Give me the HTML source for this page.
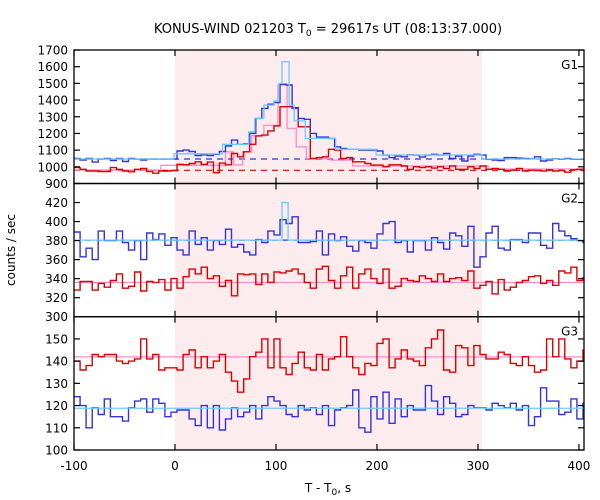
<!DOCTYPE html>
<html><head><meta charset="utf-8"><style>
body{margin:0;background:#fff}
svg{display:block;font-family:"DejaVu Sans","Liberation Sans",sans-serif}
</style></head><body>
<svg id="chart" width="600" height="500" xmlns="http://www.w3.org/2000/svg">
<text x="328" y="33" font-size="13" text-anchor="middle">KONUS-WIND 021203 T<tspan font-size="9" dy="3">0</tspan><tspan dy="-3"> = 29617s UT (08:13:37.000)</tspan></text>
<text x="0" y="0" font-size="12" text-anchor="middle" transform="translate(15,250) rotate(-90)">counts / sec</text>
<text x="328" y="492" font-size="12" text-anchor="middle">T - T<tspan font-size="9" dy="3">0</tspan><tspan dy="-3">, s</tspan></text>
<g id="layer"></g>
</svg>
<script>
const binStart = -100;
const binWidth = 6;
const xTicks = [-100, 0, 100, 200, 300, 400];
const shadeRange = [0, 304];
const g1Blue = [1050,1040,1050,1028,1046,1050,1038,1050,1032,1050,1046,1040,1046,1046,1046,1046,1046,
 1095,1100,1092,1068,1072,1068,1075,1092,1125,1160,1135,1138,1200,1290,1350,1375,1385,
 1495,1490,1350,1290,1285,1200,1178,1178,1170,1120,1110,1105,1105,1100,1100,1100,1095,
 1070,1055,1065,1060,1072,1070,1058,1070,1075,1070,1080,1050,1065,1035,1065,1075,1070,
 1045,1040,1038,1055,1055,1052,1050,1048,1060,1035,1040,1048,1045,1050,1045,1045,1045];
const g1Red = [995,985,975,975,972,972,995,985,975,970,985,990,972,962,975,975,978,
 1015,1012,1020,1030,1015,1028,965,1022,1012,1080,1060,1090,1135,1185,1190,1215,1245,
 1360,1360,1355,1240,1240,1050,1055,1060,1105,1100,1050,1055,1030,1030,1020,1010,1010,
 1000,1012,1012,1005,985,1000,995,1000,992,1000,990,1005,985,985,1000,990,1005,
 985,990,985,975,980,990,975,980,978,975,982,975,978,968,982,985,978];
const g2Blue = [389,363,372,360,390,380,380,390,378,370,380,360,388,381,387,375,383,
 370,365,390,376,383,370,380,376,392,373,376,368,365,381,378,390,386,
 402,398,405,378,378,379,390,365,387,380,384,374,369,380,378,372,387,
 398,400,378,380,368,380,380,370,383,378,371,388,385,374,395,352,363,
 388,395,372,370,381,381,378,388,388,375,372,398,390,385,382,380,378];
const g2Red = [328,337,337,328,335,331,338,345,330,332,347,327,337,336,339,328,340,
 330,342,350,345,352,340,343,332,338,322,345,344,345,334,345,336,347,
 346,348,350,345,336,330,350,353,338,330,343,352,330,345,350,340,335,
 350,330,332,340,338,337,343,340,337,345,337,340,341,338,348,330,333,
 337,324,339,328,331,336,338,342,343,335,338,333,348,346,352,338,341];
const g3Red = [140,136,138,143,142,143,143,140,139,140,141,150,141,143,136,137,137,
 136,143,145,137,142,137,140,143,135,131,126,132,142,144,150,137,150,
 137,134,139,144,137,136,143,136,141,142,151,142,137,134,139,138,148,
 150,137,141,145,141,140,138,146,150,154,136,135,147,146,138,147,143,
 141,141,144,143,139,138,142,138,135,136,150,142,150,141,137,140,145];
const g3Blue = [124,120,110,119,116,123,115,115,113,119,122,123,117,123,121,115,117,
 118,118,114,111,120,110,120,109,114,119,115,117,120,114,120,124,122,
 120,116,115,120,118,119,116,120,111,118,119,120,127,110,108,124,114,
 126,112,123,115,120,118,118,129,122,116,124,121,115,116,120,119,119,
 118,121,120,119,121,118,120,111,115,128,122,122,116,117,123,114,121];
const g1CyanEdges = [-100,-1,47,73,79,88,98,103,106,113,118,129,159,199,304,410];
const g1CyanVals = [1047,1078,1135,1210,1290,1370,1395,1500,1630,1370,1275,1170,1105,1071,1047];
const g1PinkEdges = [-100,-14,50,58,67,76,88,102,111,120,130,154,176,310,410];
const g1PinkVals = [981,1009,1090,1012,1090,1186,1248,1490,1230,1120,1050,1040,1005,987];
const g2CyanEdges = [-100,106,112,410];
const g2CyanVals = [380.5,420,380.5];
const g1Bg = [1047, 979];
const g2Bg = [380.5, 336];
const g3Bg = [118.8, 141.9];
const g1Ticks = [900,1000,1100,1200,1300,1400,1500,1600,1700];
const g2Ticks = [300,320,340,360,380,400,420];
const g3Ticks = [100,110,120,130,140,150];

const X0=74, X1=584, TMIN=-100, TMAX=405;
const xs = t => X0 + (t-TMIN)/(TMAX-TMIN)*(X1-X0);
const panels = [
 {name:'g1', top:50, bot:183.5, min:900, max:1700, ticks:g1Ticks, label:'G1'},
 {name:'g2', top:183.5, bot:316.7, min:300, max:440, ticks:g2Ticks, label:'G2'},
 {name:'g3', top:316.7, bot:450, min:100, max:160, ticks:g3Ticks, label:'G3'}
];
panels.forEach(p=>{p.y = v => p.bot - (v-p.min)/(p.max-p.min)*(p.bot-p.top);});
const NS='http://www.w3.org/2000/svg';
const layer=document.getElementById('layer');
function mk(tag, attrs){const e=document.createElementNS(NS,tag);for(const k in attrs)e.setAttribute(k,attrs[k]);layer.appendChild(e);return e;}

// shading
const sh = mk('rect',{x:xs(shadeRange[0]),y:50,width:xs(shadeRange[1])-xs(shadeRange[0]),height:400,fill:'#fdeced'});



function clampT(t){return Math.max(TMIN,Math.min(TMAX,t));}
function binPath(vals,p){
 let d='';
 vals.forEach((v,i)=>{
  const a=clampT(binStart+i*binWidth), b=clampT(binStart+(i+1)*binWidth);
  if(a>=b) return;
  const y=p.y(v).toFixed(1);
  d += (d===''?'M':'L')+xs(a).toFixed(1)+','+y+'L'+xs(b).toFixed(1)+','+y;
 });
 return d;
}
function edgePath(edges,vals,p){
 let d='';
 vals.forEach((v,i)=>{
  const a=clampT(edges[i]), b=clampT(edges[i+1]);
  if(a>=b) return;
  const y=p.y(v).toFixed(1);
  d += (d===''?'M':'L')+xs(a).toFixed(1)+','+y+'L'+xs(b).toFixed(1)+','+y;
 });
 return d;
}
function hline(v,p,color,dash,name){
 const l=mk('line',{x1:X0,x2:X1,y1:p.y(v),y2:p.y(v),stroke:color,'stroke-width':1.2});
 if(dash) l.setAttribute('stroke-dasharray',dash);
 
 
}
function series(d,color,name,w){
 const e=mk('path',{d:d,fill:'none',stroke:color,'stroke-width':w||1.4});
 
 
}
const BLUE='#3333dd', RED='#dd0000', CYAN='#66ccff', PINK='#ff88cc';
const P1=panels[0],P2=panels[1],P3=panels[2];
hline(g1Bg[0],P1,BLUE,'6,5','g1-blue-background');
hline(g1Bg[1],P1,RED,'6,5','g1-red-background');
series(edgePath(g1PinkEdges,g1PinkVals,P1),PINK,'g1-pink-coarse-curve',1.3);
series(binPath(g1Red,P1),RED,'g1-red-series');
series(binPath(g1Blue,P1),BLUE,'g1-blue-series');
series(edgePath(g1CyanEdges,g1CyanVals,P1),CYAN,'g1-cyan-coarse-curve',1.3);
hline(g2Bg[0],P2,BLUE,'6,5','g2-blue-background');
hline(g2Bg[1],P2,PINK,null,'g2-pink-background');
series(binPath(g2Red,P2),RED,'g2-red-series');
series(binPath(g2Blue,P2),BLUE,'g2-blue-series');
series(edgePath(g2CyanEdges,g2CyanVals,P2),CYAN,'g2-cyan-curve',1.3);
hline(g3Bg[1],P3,PINK,null,'g3-pink-background');
series(binPath(g3Red,P3),RED,'g3-red-series');
series(binPath(g3Blue,P3),BLUE,'g3-blue-series');
hline(g3Bg[0],P3,CYAN,null,'g3-cyan-background');

// frames & ticks
panels.forEach((p,pi)=>{
 const f=mk('rect',{x:X0,y:p.top,width:X1-X0,height:p.bot-p.top,fill:'none',stroke:'#000','stroke-width':1.3});
 
 
 xTicks.forEach(t=>{
  mk('line',{x1:xs(t),x2:xs(t),y1:p.bot,y2:p.bot-6,stroke:'#000','stroke-width':1.2});
  mk('line',{x1:xs(t),x2:xs(t),y1:p.top,y2:p.top+6,stroke:'#000','stroke-width':1.2});
 });
 p.ticks.forEach(v=>{
  const y=p.y(v);
  mk('line',{x1:X0,x2:X0+6,y1:y,y2:y,stroke:'#000','stroke-width':1.2});
  mk('line',{x1:X1,x2:X1-6,y1:y,y2:y,stroke:'#000','stroke-width':1.2});
  const tl=mk('text',{x:X0-6,y:y+4.5,'font-size':12,'text-anchor':'end'});
  tl.textContent=v;
  
  
 });
 const lb=mk('text',{x:578,y:p.top+19,'font-size':12,'text-anchor':'end'});
 lb.textContent=p.label;
 
 
});
xTicks.forEach(t=>{
 const tl=mk('text',{x:xs(t),y:470,'font-size':12,'text-anchor':'middle'});
 tl.textContent=t;
 
 
});
</script>
</body></html>
